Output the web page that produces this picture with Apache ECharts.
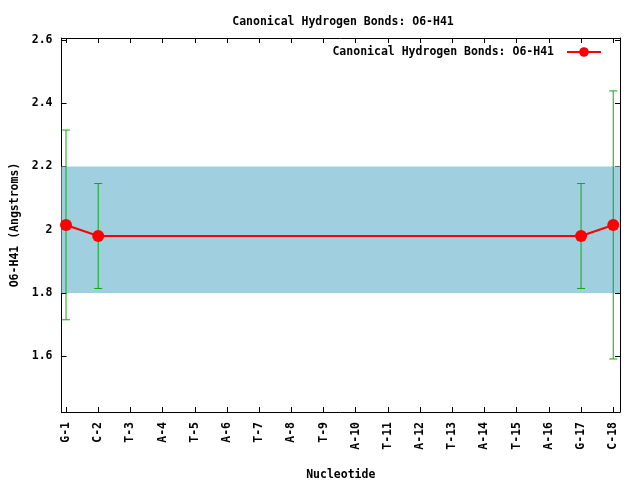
<!DOCTYPE html>
<html><head><meta charset="utf-8">
<script src="https://cdn.jsdelivr.net/npm/echarts@6/dist/echarts.min.js"></script>
<style>html,body{margin:0;padding:0;background:#fff}#c{width:640px;height:480px}</style>
</head><body><div id="c"></div>
<script>
var categories = ['G-1','C-2','T-3','A-4','T-5','A-6','T-7','A-8','T-9','A-10','T-11','A-12','T-13','A-14','T-15','A-16','G-17','C-18'];
var values = [2.015, 1.98, null, null, null, null, null, null, null, null, null, null, null, null, null, null, 1.98, 2.015];
var errors = [0.30, 0.166, null, null, null, null, null, null, null, null, null, null, null, null, null, null, 0.166, 0.424];
var yTicks = [1.6, 1.8, 2.0, 2.2, 2.4, 2.6];
var bandLow = 1.8, bandHigh = 2.2;

var FONT = 'DejaVu Sans Mono';
var xTicks = categories.map(function(c, i){ return i + 1; });
var lineData = values.map(function(v, i){ return [i + 1, v]; });
var errData = [];
values.forEach(function(v, i){ if (v != null) errData.push([i + 1, v - errors[i], v + errors[i]]); });
function fmtY2(v){ var s = (+v).toFixed(1); return s === '2.0' ? '2' : s; }

var chart = echarts.init(document.getElementById('c'), null, {renderer: 'canvas'});
var xBase = {
  type: 'value', min: 0.86, max: 18.21,
  splitLine: {show: false},
  axisLine: {show: true, onZero: false, lineStyle: {color: '#000', width: 1}},
  axisTick: {show: true, inside: true, length: 5, customValues: xTicks, lineStyle: {color: '#000'}}
};
var yBase = {
  type: 'value', min: 1.4233, max: 2.6063,
  splitLine: {show: false},
  axisLine: {show: true, onZero: false, lineStyle: {color: '#000', width: 1}},
  axisTick: {show: true, inside: true, length: 5, customValues: yTicks, lineStyle: {color: '#000'}}
};
chart.setOption({
  animation: false,
  backgroundColor: '#fff',
  title: {
    text: 'Canonical Hydrogen Bonds: O6-H41', left: 338, top: 11, textAlign: 'center',
    textStyle: {fontFamily: FONT, fontSize: 11.5, fontWeight: 'bold', color: '#000'}
  },
  legend: {
    right: 33, top: 41, align: 'right', itemWidth: 34, itemHeight: 12, itemGap: 0,
    textStyle: {fontFamily: FONT, fontSize: 11.5, fontWeight: 'bold', color: '#000', padding: [0, 8, 0, 0]},
    data: [{name: 'Canonical Hydrogen Bonds: O6-H41'}]
  },
  grid: {left: 61.5, right: 20, top: 38, bottom: 68, containLabel: false, outerBoundsMode: 'none'},
  xAxis: [
    Object.assign({}, xBase, {
      position: 'bottom',
      name: 'Nucleotide', nameLocation: 'middle', nameGap: 57,
      nameTextStyle: {fontFamily: FONT, fontSize: 11.5, fontWeight: 'bold', color: '#000'},
      axisLabel: {
        show: true, customValues: xTicks, rotate: 90, margin: 10,
        fontFamily: FONT, fontSize: 11.5, fontWeight: 'bold', color: '#000',
        formatter: function(v){ return categories[Math.round(v) - 1] || ''; }
      }
    }),
    Object.assign({}, xBase, {position: 'top', axisLabel: {show: false}})
  ],
  yAxis: [
    Object.assign({}, yBase, {
      position: 'left',
      name: 'O6-H41 (Angstroms)', nameLocation: 'middle', nameGap: 40, nameRotate: 90,
      nameTextStyle: {fontFamily: FONT, fontSize: 11.5, fontWeight: 'bold', color: '#000'},
      axisLabel: {
        show: true, customValues: yTicks, margin: 9,
        fontFamily: FONT, fontSize: 11.5, fontWeight: 'bold', color: '#000',
        formatter: fmtY2
      }
    }),
    Object.assign({}, yBase, {position: 'right', axisLabel: {show: false}})
  ],
  series: [
    {
      name: 'band', type: 'line', data: [], silent: true,
      markArea: {silent: true, itemStyle: {color: '#a0cfdf', opacity: 1},
        data: [[{yAxis: bandLow}, {yAxis: bandHigh}]]}
    },
    {
      name: 'errors', type: 'custom', data: errData, z: 3,
      renderItem: function(params, api){
        var x = api.value(0);
        var lo = api.coord([x, api.value(1)]);
        var hi = api.coord([x, api.value(2)]);
        var w = 4;
        var st = {stroke: '#10a810', lineWidth: 1};
        return {type: 'group', children: [
          {type: 'line', shape: {x1: lo[0], y1: lo[1], x2: hi[0], y2: hi[1]}, style: st},
          {type: 'line', shape: {x1: lo[0]-w, y1: lo[1], x2: lo[0]+w, y2: lo[1]}, style: st},
          {type: 'line', shape: {x1: hi[0]-w, y1: hi[1], x2: hi[0]+w, y2: hi[1]}, style: st}
        ]};
      }
    },
    {
      name: 'Canonical Hydrogen Bonds: O6-H41', type: 'line', data: lineData, z: 5,
      connectNulls: true, symbol: 'circle', symbolSize: 12,
      lineStyle: {color: '#ff0000', width: 2},
      itemStyle: {color: '#ff0000'}
    }
  ]
});
</script>
</body></html>
